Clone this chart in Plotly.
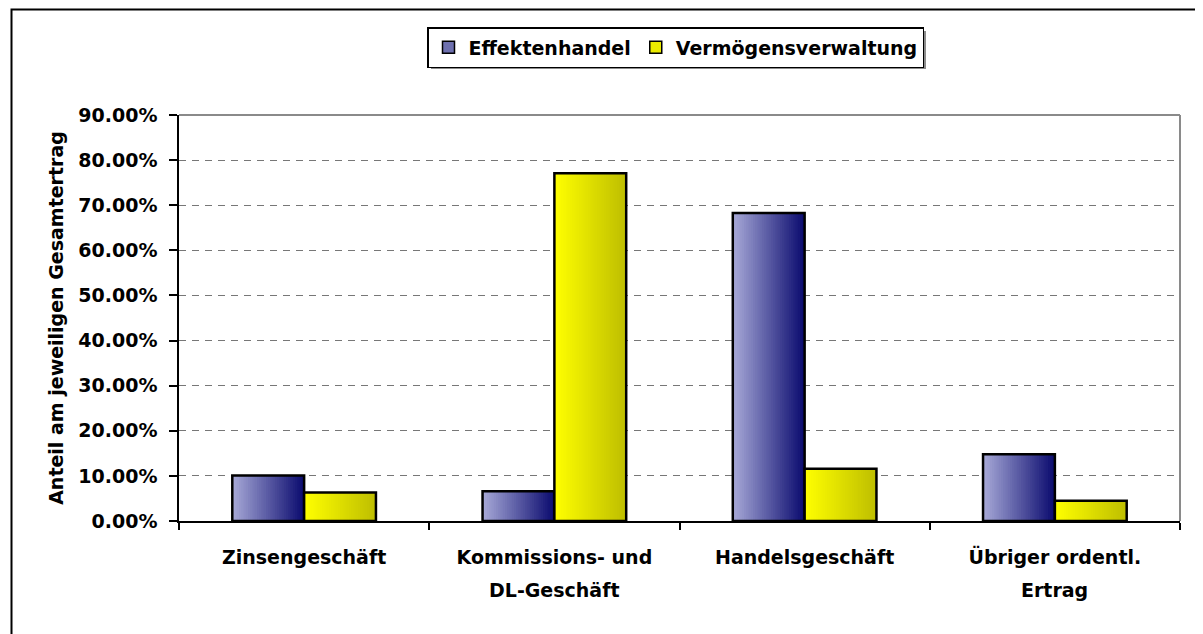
import plotly.graph_objects as go

# ---------------- data ----------------
categories = ["Zinsengeschäft", "Kommissions- und DL-Geschäft", "Handelsgeschäft", "Übriger ordentl. Ertrag"]
tick_line1 = ["Zinsengeschäft", "Kommissions- und", "Handelsgeschäft", "Übriger ordentl."]
tick_line2 = ["", "DL-Geschäft", "", "Ertrag"]
effektenhandel = [0.101, 0.066, 0.683, 0.148]
vermoegensverwaltung = [0.063, 0.771, 0.116, 0.045]
series_names = ["Effektenhandel", "Vermögensverwaltung"]
y_tickvals = [0.0, 0.1, 0.2, 0.3, 0.4, 0.5, 0.6, 0.7, 0.8, 0.9]
y_title = "Anteil am jeweiligen Gesamtertrag"

# ---------------- style ----------------
FONT = "DejaVu Sans"
FS = 19
OFF = 8                       # page body margin offset
W, H = 1203 - OFF, 634 - OFF
ML, MR, MT, MB = 179 - OFF, 23, 115 - OFF, 113
BAR_W = 0.287                 # bar width in category units
K = 32                        # gradient slices per bar

grad = {
    "Effektenhandel": ((168, 170, 216), (10, 10, 110)),
    "Vermögensverwaltung": ((255, 255, 0), (190, 190, 0)),
}
legend_col = {"Effektenhandel": "rgb(110,112,175)", "Vermögensverwaltung": "rgb(235,235,0)"}


def lerp(c0, c1, t):
    return "rgb(%d,%d,%d)" % tuple(round(a + (b - a) * t) for a, b in zip(c0, c1))


fig = go.Figure()

series = [(series_names[0], effektenhandel, -BAR_W), (series_names[1], vermoegensverwaltung, 0.0)]
for name, vals, off0 in series:
    c0, c1 = grad[name]
    step = BAR_W / K
    for i in range(K):
        off = off0 + i * step
        wid = min(step * 1.7, BAR_W - i * step)
        fig.add_trace(go.Bar(
            x=categories, y=vals, offset=off, width=wid,
            marker=dict(color=lerp(c0, c1, (i + 0.5) / K), line=dict(width=0)),
            showlegend=False, hoverinfo="skip",
        ))
    # outline
    fig.add_trace(go.Bar(
        x=categories, y=vals, offset=off0, width=BAR_W, name=name,
        marker=dict(color="rgba(0,0,0,0)", line=dict(color="black", width=2.5)),
        showlegend=False,
    ))
    # legend entry
    fig.add_trace(go.Bar(
        x=[categories[0]], y=[None], name=name, offset=off0, width=BAR_W,
        marker=dict(color=legend_col[name], line=dict(color="black", width=1.5)),
        showlegend=True,
    ))


def px_x(px):
    """reference-screen x pixel -> paper coordinate"""
    return (px - OFF - ML) / (W - ML - MR)


def px_y(py):
    """reference-screen y pixel -> paper coordinate"""
    return (H - MB - (py - OFF)) / (H - MT - MB)


shapes = [
    # outer chart-area frame (runs past right/bottom edges)
    dict(type="rect", xref="paper", yref="paper",
         x0=px_x(11.5), x1=px_x(1225), y0=px_y(680), y1=px_y(9.5),
         line=dict(color="black", width=2), fillcolor="rgba(0,0,0,0)", layer="below"),
    # legend shadow
    dict(type="rect", xref="paper", yref="paper",
         x0=px_x(431), x1=px_x(926), y0=px_y(69), y1=px_y(31),
         line=dict(width=0), fillcolor="#8c8c8c", layer="above"),
    # plot area top and right border
    dict(type="line", xref="paper", yref="paper", x0=0, x1=1, y0=1, y1=1,
         line=dict(color="#8a8a8a", width=2), layer="above"),
    dict(type="line", xref="paper", yref="paper", x0=1, x1=1, y0=0, y1=1,
         line=dict(color="#8a8a8a", width=2), layer="above"),
]

annotations = []
for cat, t2 in zip(categories, tick_line2):
    if t2:
        annotations.append(dict(
            x=cat, xref="x", y=px_y(590), yref="paper", text=t2, showarrow=False,
            yanchor="middle", xanchor="center",
            font=dict(family=FONT, size=FS, color="black", weight="bold"),
        ))

fig.update_layout(
    width=W, height=H,
    margin=dict(l=ML, r=MR, t=MT, b=MB, autoexpand=False),
    paper_bgcolor="white", plot_bgcolor="white",
    barmode="overlay",
    font=dict(family=FONT, size=FS, color="black", weight="bold"),
    shapes=shapes, annotations=annotations,
    showlegend=True,
    legend=dict(
        orientation="h", x=px_x(427), y=px_y(27), xanchor="left", yanchor="top",
        bgcolor="white", bordercolor="black", borderwidth=1.5,
        font=dict(family=FONT, size=FS, color="black", weight="bold"),
        itemwidth=30, traceorder="normal",
    ),
    xaxis=dict(
        type="category", categoryorder="array", categoryarray=categories,
        range=[-0.5, 3.5],
        tickvals=categories, ticktext=tick_line1,
        tickson="boundaries", ticks="outside", ticklen=7, tickwidth=1.5, tickcolor="black",
        ticklabelstandoff=18,
        showline=True, linecolor="black", linewidth=1.5,
        showgrid=False, zeroline=False,
        tickfont=dict(family=FONT, size=FS, color="black", weight="bold"),
    ),
    yaxis=dict(
        range=[0, 0.9], tickvals=y_tickvals, tickformat=".2%",
        ticks="outside", ticklen=8, tickwidth=1.5, tickcolor="black",
        ticklabelstandoff=8,
        showline=True, linecolor="black", linewidth=1.5,
        showgrid=True, gridcolor="#777777", gridwidth=1.2, griddash="7px,6px",
        zeroline=False,
        tickfont=dict(family=FONT, size=FS, color="black", weight="bold"),
        title=dict(text=y_title, standoff=10,
                   font=dict(family=FONT, size=FS, color="black", weight="bold")),
    ),
)

fig.write_html("out.html")
